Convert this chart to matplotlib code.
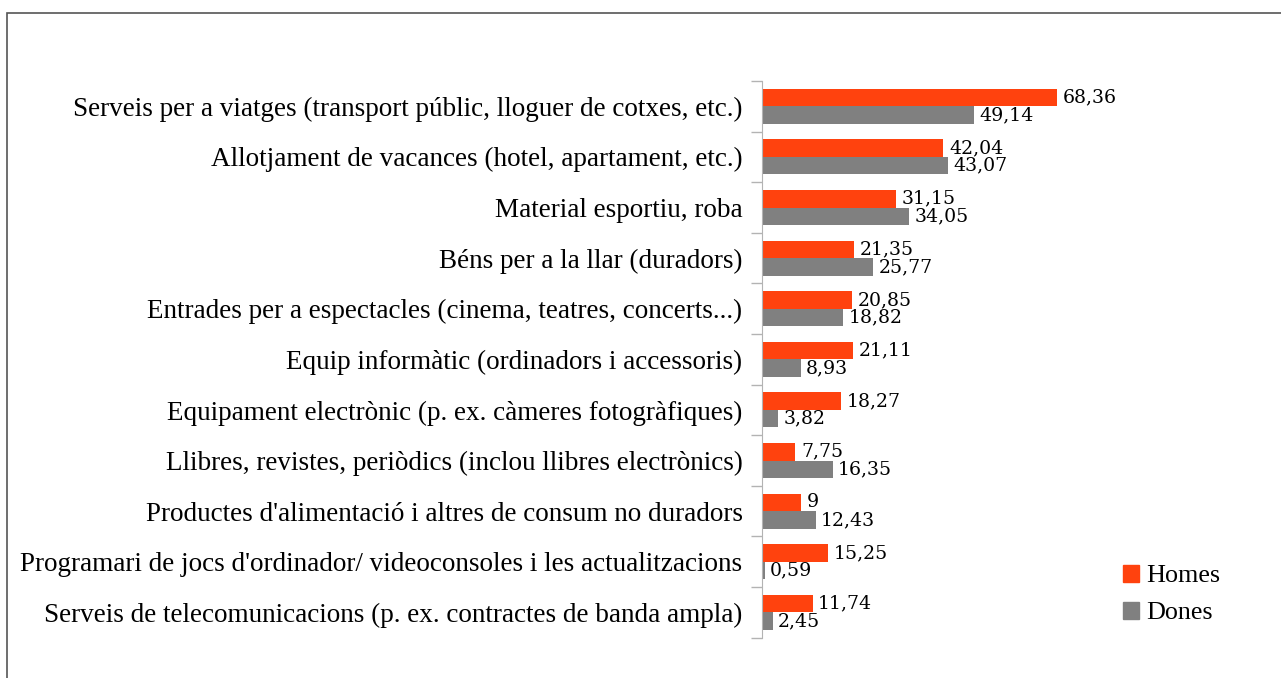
import numpy as np
import matplotlib.pyplot as plt
from matplotlib.patches import Rectangle, Patch

plt.rcParams['font.family'] = ['Liberation Serif', 'DejaVu Serif']

#### Data ####
categories = [
    "Serveis per a viatges (transport públic, lloguer de cotxes, etc.)",
    "Allotjament de vacances (hotel, apartament, etc.)",
    "Material esportiu, roba",
    "Béns per a la llar (duradors)",
    "Entrades per a espectacles (cinema, teatres, concerts...)",
    "Equip informàtic (ordinadors i accessoris)",
    "Equipament electrònic (p. ex. càmeres fotogràfiques)",
    "Llibres, revistes, periòdics (inclou llibres electrònics)",
    "Productes d'alimentació i altres de consum no duradors",
    "Programari de jocs d'ordinador/ videoconsoles i les actualitzacions",
    "Serveis de telecomunicacions (p. ex. contractes de banda ampla)",
]
homes = [68.36, 42.04, 31.15, 21.35, 20.85, 21.11, 18.27, 7.75, 9, 15.25, 11.74]
dones = [49.14, 43.07, 34.05, 25.77, 18.82, 8.93, 3.82, 16.35, 12.43, 0.59, 2.45]

c_homes = '#FF420E'
c_dones = '#808080'

fig = plt.figure(figsize=(12.81, 6.78), dpi=100)
ax = fig.add_axes([762/1281, 1-637.7/678, (1107-762)/1281, (637.7-81)/678])

y = np.arange(len(categories))
h = 0.345
ax.barh(y - h/2, homes, height=h, color=c_homes)
ax.barh(y + h/2, dones, height=h, color=c_dones)

def fmt(v):
    return f"{v:g}".replace('.', ',')

for i in range(len(categories)):
    ax.text(homes[i] + 1.3, y[i] - h/2, fmt(homes[i]), va='center', ha='left',
            fontsize=13.6, family='DejaVu Serif')
    ax.text(dones[i] + 1.3, y[i] + h/2, fmt(dones[i]), va='center', ha='left',
            fontsize=13.6, family='DejaVu Serif')

ax.set_xlim(0, 80)
ax.set_ylim(len(categories) - 0.5, -0.5)

# boundary ticks
ax.set_yticks(np.arange(len(categories) + 1) - 0.5)
ax.set_yticklabels([])
ax.tick_params(axis='y', which='major', length=8, color='#b3b3b3', width=1)
ax.set_yticks(y, minor=True)
ax.set_yticklabels(categories, minor=True, fontsize=19.5)
ax.tick_params(axis='y', which='minor', length=0, pad=14)

ax.set_xticks([])
for s in ['top', 'right', 'bottom']:
    ax.spines[s].set_visible(False)
ax.spines['left'].set_color('#b3b3b3')

handles = [Patch(color=c_homes, label='Homes'), Patch(color=c_dones, label='Dones')]
fig.legend(handles=handles, loc='center left', bbox_to_anchor=(1099/1281, 1-594.5/678),
           frameon=False, fontsize=18.8, handlelength=0.62, handleheight=0.62,
           handletextpad=0.3, labelspacing=0.55)

# outer border
fig.patches.append(Rectangle((7/1281, -0.01), 1.0, 1-13/678 + 0.01, transform=fig.transFigure,
                             fill=False, edgecolor='#555555', linewidth=1.2))

fig.savefig('out.png', dpi=100)
